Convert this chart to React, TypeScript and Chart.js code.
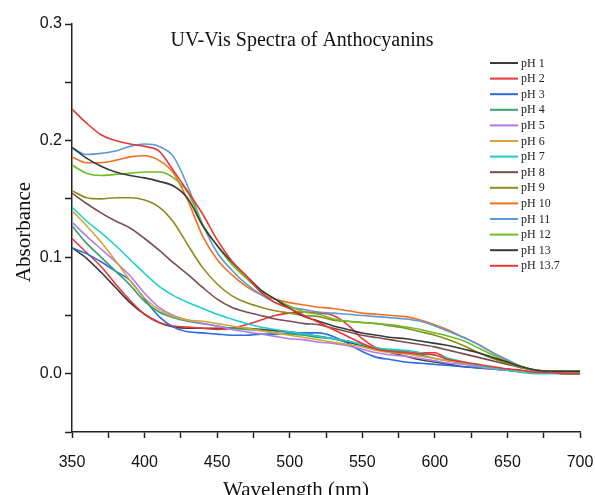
import React, { useEffect, useRef } from 'react';
import { Chart, registerables } from 'chart.js';

Chart.register(...registerables);

const wavelengths = [350,360,370,380,390,400,410,420,430,440,450,460,470,480,490,500,510,520,530,540,550,560,570,580,590,600,610,620,630,640,650,660,670,680,690,700];

const pH1 = [0.108,0.099,0.087,0.074,0.061,0.051,0.044,0.040,0.039,0.039,0.039,0.039,0.039,0.038,0.037,0.036,0.034,0.032,0.030,0.027,0.024,0.021,0.018,0.015,0.012,0.010,0.008,0.006,0.005,0.004,0.003,0.002,0.001,0.001,0.000,0.000];
const pH2 = [0.116,0.104,0.092,0.077,0.063,0.051,0.044,0.041,0.040,0.039,0.038,0.039,0.042,0.046,0.050,0.052,0.053,0.052,0.050,0.042,0.030,0.022,0.020,0.019,0.018,0.018,0.012,0.009,0.007,0.005,0.004,0.002,0.001,0.001,0.000,0.000];
const pH3 = [0.108,0.103,0.096,0.088,0.080,0.064,0.049,0.040,0.036,0.035,0.034,0.033,0.033,0.034,0.034,0.035,0.035,0.035,0.032,0.026,0.019,0.014,0.012,0.010,0.009,0.008,0.007,0.006,0.005,0.004,0.003,0.002,0.002,0.002,0.002,0.002];
const pH4 = [0.127,0.112,0.100,0.088,0.076,0.062,0.053,0.048,0.045,0.043,0.041,0.039,0.038,0.037,0.035,0.034,0.033,0.031,0.030,0.028,0.025,0.022,0.020,0.018,0.016,0.013,0.011,0.009,0.007,0.005,0.004,0.002,0.001,0.001,0.001,0.001];
const pH5 = [0.130,0.118,0.107,0.096,0.084,0.069,0.057,0.050,0.046,0.043,0.041,0.038,0.036,0.034,0.032,0.030,0.029,0.027,0.026,0.024,0.021,0.018,0.016,0.015,0.013,0.011,0.009,0.008,0.006,0.004,0.003,0.002,0.001,0.001,0.001,0.001];
const pH6 = [0.140,0.127,0.113,0.097,0.080,0.065,0.055,0.049,0.046,0.045,0.043,0.041,0.039,0.037,0.035,0.033,0.031,0.029,0.027,0.025,0.023,0.020,0.018,0.017,0.015,0.013,0.011,0.009,0.007,0.005,0.004,0.002,0.001,0.001,0.001,0.001];
const pH7 = [0.143,0.131,0.121,0.110,0.098,0.086,0.075,0.067,0.061,0.056,0.051,0.047,0.043,0.040,0.038,0.036,0.034,0.032,0.030,0.028,0.025,0.022,0.021,0.020,0.018,0.016,0.013,0.010,0.007,0.005,0.003,0.001,0.000,0.000,0.000,0.000];
const pH8 = [0.155,0.146,0.138,0.131,0.125,0.116,0.106,0.095,0.085,0.074,0.064,0.057,0.053,0.050,0.047,0.045,0.043,0.042,0.039,0.036,0.033,0.031,0.029,0.027,0.025,0.023,0.020,0.017,0.014,0.011,0.008,0.005,0.003,0.002,0.002,0.002];
const pH9 = [0.157,0.151,0.150,0.151,0.151,0.149,0.143,0.130,0.110,0.091,0.077,0.067,0.061,0.057,0.054,0.052,0.050,0.049,0.046,0.045,0.044,0.043,0.041,0.039,0.036,0.033,0.029,0.024,0.018,0.013,0.009,0.005,0.003,0.002,0.002,0.002];
const pH10 = [0.186,0.181,0.181,0.183,0.186,0.187,0.183,0.172,0.148,0.118,0.098,0.085,0.075,0.068,0.064,0.061,0.059,0.057,0.056,0.054,0.052,0.051,0.050,0.049,0.046,0.042,0.037,0.031,0.025,0.018,0.011,0.006,0.003,0.002,0.002,0.002];
const pH11 = [0.194,0.188,0.189,0.191,0.195,0.197,0.195,0.186,0.160,0.128,0.104,0.089,0.077,0.068,0.061,0.057,0.055,0.053,0.052,0.051,0.050,0.049,0.048,0.047,0.045,0.041,0.036,0.031,0.025,0.018,0.012,0.006,0.003,0.002,0.002,0.002];
const pH12 = [0.179,0.172,0.170,0.171,0.172,0.173,0.173,0.168,0.155,0.128,0.110,0.094,0.082,0.071,0.064,0.058,0.053,0.051,0.047,0.045,0.044,0.043,0.042,0.040,0.038,0.035,0.032,0.028,0.022,0.016,0.010,0.006,0.003,0.002,0.002,0.002];
const pH13 = [0.194,0.185,0.178,0.173,0.170,0.168,0.165,0.161,0.150,0.127,0.110,0.096,0.084,0.072,0.064,0.056,0.049,0.045,0.041,0.038,0.035,0.033,0.031,0.030,0.028,0.026,0.024,0.021,0.018,0.014,0.010,0.006,0.003,0.002,0.002,0.002];
const pH13_7 = [0.227,0.215,0.205,0.200,0.197,0.195,0.191,0.174,0.156,0.137,0.115,0.097,0.084,0.070,0.061,0.056,0.050,0.044,0.038,0.032,0.026,0.021,0.019,0.018,0.017,0.016,0.012,0.010,0.008,0.006,0.004,0.003,0.001,0.001,0.000,0.000];

const seriesLabels = ['pH 1','pH 2','pH 3','pH 4','pH 5','pH 6','pH 7','pH 8','pH 9','pH 10','pH 11','pH 12','pH 13','pH 13.7'];
const seriesValues = [pH1,pH2,pH3,pH4,pH5,pH6,pH7,pH8,pH9,pH10,pH11,pH12,pH13,pH13_7];
const seriesColors = ['#3c3c3c','#e8373a','#2a6de0','#3aa06a','#b27be8','#d4a63a','#1fcfcf','#7a4e4e','#8c8c1a','#f37021','#5b9bd5','#6abf1f','#3a3a3a','#e53935'];

const chartTitle = 'UV-Vis Spectra of Anthocyanins';
const xTitle = 'Wavelength (nm)';
const yTitle = 'Absorbance';

const SERIF = '"Liberation Serif", "Times New Roman", serif';
const SANS = '"Liberation Sans", Arial, sans-serif';

const annotatePlugin = {
  id: 'annotate',
  afterDraw(chart: any) {
    const ctx = chart.ctx;
    const area = chart.chartArea;
    ctx.save();
    ctx.fillStyle = '#111';
    // title
    ctx.font = `20px ${SERIF}`;
    ctx.textAlign = 'center';
    ctx.textBaseline = 'middle';
    ctx.fillText(chartTitle, 302, 41);
    // x title
    ctx.font = `21px ${SERIF}`;
    ctx.textBaseline = 'alphabetic';
    ctx.fillText(xTitle, 296, 496);
    // y title
    ctx.save();
    ctx.translate(24, (area.top + area.bottom) / 2 + 4);
    ctx.rotate(-Math.PI / 2);
    ctx.textBaseline = 'middle';
    ctx.font = `21px ${SERIF}`;
    ctx.fillText(yTitle, 0, 0);
    ctx.restore();
    // legend
    ctx.font = `12px ${SERIF}`;
    ctx.textAlign = 'left';
    ctx.textBaseline = 'middle';
    chart.data.datasets.forEach((ds: any, i: number) => {
      const y = 63 + i * 15.6;
      ctx.strokeStyle = ds.borderColor;
      ctx.lineWidth = 2;
      ctx.beginPath();
      ctx.moveTo(490, y);
      ctx.lineTo(518, y);
      ctx.stroke();
      ctx.fillStyle = '#222';
      ctx.fillText(ds.label, 521, y + 0.5);
    });
    ctx.restore();
  },
};

export default function App() {
  const canvasRef = useRef<HTMLCanvasElement | null>(null);

  useEffect(() => {
    if (!canvasRef.current) return;
    const chart = new Chart(canvasRef.current, {
      type: 'line',
      data: {
        datasets: seriesLabels.map((label, i) => ({
          label,
          data: wavelengths.map((w, j) => ({ x: w, y: seriesValues[i][j] })),
          borderColor: seriesColors[i],
          backgroundColor: seriesColors[i],
          borderWidth: 1.6,
          pointRadius: 0,
          fill: false,
          cubicInterpolationMode: 'monotone' as const,
          order: seriesLabels.length - i,
        })),
      },
      options: {
        responsive: false,
        animation: false,
        devicePixelRatio: 1,
        layout: { padding: { top: 24, right: 15, left: 0, bottom: 0 } },
        plugins: {
          legend: { display: false },
          title: { display: false },
          tooltip: { enabled: false },
        },
        scales: {
          x: {
            type: 'linear',
            min: 350,
            max: 700,
            border: { display: true, color: '#222', width: 1.5 },
            grid: { drawOnChartArea: false, drawTicks: true, tickLength: 6, tickColor: '#222', tickWidth: 1.5 },
            ticks: {
              stepSize: 25,
              autoSkip: false,
              maxRotation: 0,
              padding: 15,
              color: '#111',
              font: { family: SANS, size: 16 },
              callback: (v: any) => (Number(v) % 50 === 0 ? String(v) : ''),
            },
            afterFit: (s: any) => { s.height = 63; s.paddingRight = 0; s.paddingLeft = 0; },
          },
          y: {
            type: 'linear',
            min: -0.05,
            max: 0.3,
            border: { display: true, color: '#222', width: 1.5 },
            grid: { drawOnChartArea: false, drawTicks: true, tickLength: 7, tickColor: '#222', tickWidth: 1.5 },
            ticks: {
              stepSize: 0.05,
              autoSkip: false,
              padding: 3,
              color: '#111',
              font: { family: SANS, size: 16 },
              callback: (v: any) => {
                const n = Number(v);
                const k = Math.round(n * 10);
                if (Math.abs(n * 10 - k) < 1e-6 && k >= 0) return (k / 10).toFixed(1);
                return '';
              },
            },
            afterFit: (s: any) => { s.width = 72; s.paddingTop = 0; s.paddingBottom = 0; },
          },
        },
      },
      plugins: [annotatePlugin],
    });
    return () => chart.destroy();
  }, []);

  return (
    <div style={{ position: 'fixed', left: 0, top: 0, width: 595, height: 495, background: '#fff' }}>
      <canvas ref={canvasRef} width={595} height={495} />
    </div>
  );
}
